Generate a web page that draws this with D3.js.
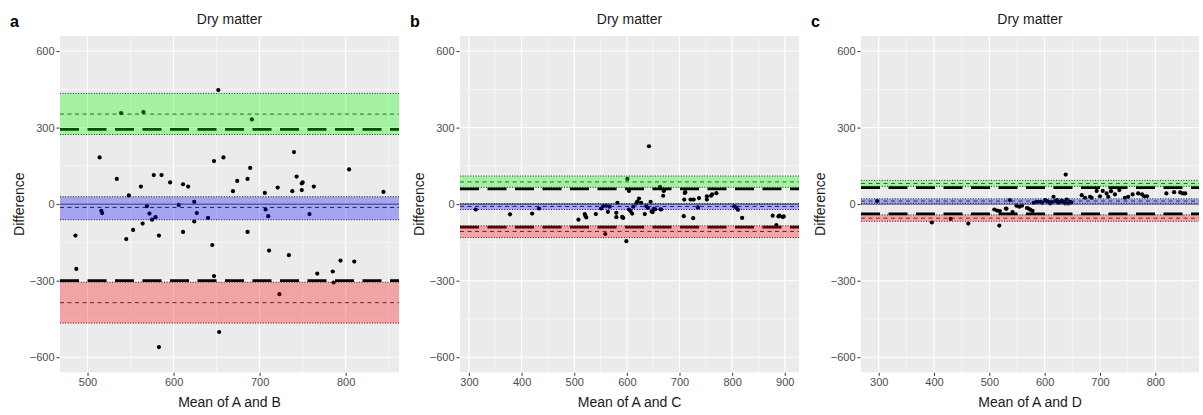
<!DOCTYPE html>
<html>
<head>
<meta charset="utf-8">
<script src="https://cdn.jsdelivr.net/npm/d3@7"></script>
<style>
  body { margin: 0; background: #fff; }
  svg { display: block; font-family: "Liberation Sans", Arial, sans-serif; }
</style>
</head>
<body>
<svg id="chart" width="1203" height="415"></svg>
<script>
// ---------------- data ----------------
const panelLetters = ["a", "b", "c"];
const panelTitles = ["Dry matter", "Dry matter", "Dry matter"];
const xTitles = ["Mean of A and B", "Mean of A and C", "Mean of A and D"];
const yTitle = "Difference";

const yTicks = [-600, -300, 0, 300, 600];
const yMinor = [-450, -150, 150, 450];
const xTicksA = [500, 600, 700, 800];
const xMinorA = [550, 650, 750, 850];
const xTicksB = [300, 400, 500, 600, 700, 800, 900];
const xMinorB = [350, 450, 550, 650, 750, 850];
const xTicksC = [300, 400, 500, 600, 700, 800];
const xMinorC = [350, 450, 550, 650, 750, 850];

// [mean, difference]
const pointsA = [[486,-123],[487,-254],[514,183],[516,-26],[517,-35],[534,99],[539,357],[545,-137],[548,34],[553,-101],[562,69],[564,-76],[565,361],[569,-8],[572,-37],[575,-61],[577,114],[579,-51],[583,-123],[583,-560],[586,114],[596,85],[606,-3],[611,78],[611,-109],[617,69],[624,9],[624,-68],[627,-35],[640,-54],[645,-160],[647,169],[647,-282],[652,447],[653,-501],[658,183],[669,51],[674,91],[686,99],[686,-109],[689,142],[691,332],[706,44],[707,-21],[710,-47],[711,-182],[721,65],[723,-353],[734,-200],[738,51],[740,204],[743,108],[749,81],[749,55],[750,85],[758,-39],[763,69],[767,-272],[785,-264],[786,-307],[794,-221],[804,136],[810,-225],[844,48]];

const pointsB = [[313,-21],[378,-40],[420,-37],[433,-17],[508,-61],[520,-39],[521,-45],[523,-52],[541,-39],[551,-17],[555,-8],[559,-117],[561,-6],[564,-30],[567,-10],[580,-34],[580,-51],[582,5],[591,-50],[593,-54],[599,-145],[601,99],[604,52],[604,-21],[607,-27],[610,-37],[612,-10],[618,3],[620,10],[623,22],[627,5],[634,-39],[637,-8],[640,-15],[642,227],[645,9],[647,-29],[649,-31],[651,-18],[654,-20],[663,68],[664,-20],[665,-21],[669,33],[670,52],[671,55],[708,-47],[709,18],[710,44],[711,47],[721,18],[726,-55],[727,18],[735,-13],[737,24],[752,18],[752,31],[760,33],[762,38],[770,43],[804,-9],[808,-14],[811,-22],[819,-54],[877,-45],[884,-82],[888,-48],[890,-45],[896,-50],[898,-48]];

const pointsC = [[297,12],[396,-72],[430,-58],[462,-76],[509,-21],[514,-25],[519,-27],[518,-84],[530,-17],[531,-18],[537,16],[542,-31],[549,-6],[554,-10],[559,-6],[568,-15],[571,-17],[574,-22],[578,-26],[580,5],[586,9],[592,9],[596,5],[601,16],[604,12],[607,9],[610,3],[613,8],[616,29],[619,12],[622,16],[625,5],[628,9],[631,14],[634,9],[637,3],[638,116],[640,18],[643,3],[646,9],[648,6],[667,35],[673,25],[682,29],[685,25],[694,52],[700,31],[705,52],[712,42],[715,29],[720,51],[727,38],[735,55],[745,25],[751,29],[759,38],[769,42],[776,38],[780,31],[785,31],[820,42],[834,47],[845,46],[850,42],[854,42]];

// band limits: [lower, centre, upper] ; limits of agreement / bias
const upperBandA = [273, 353, 434], biasBandA = [-61, -13, 29], lowerBandA = [-466, -386, -306];
const upperLoAA = 293, lowerLoAA = -300;
const upperBandB = [66, 87, 110], biasBandB = [-21, -9, 2], lowerBandB = [-131, -107, -85];
const upperLoAB = 60, lowerLoAB = -90;
const upperBandC = [70, 81, 93], biasBandC = [3, 12, 21], lowerBandC = [-67, -55, -42];
const upperLoAC = 65, lowerLoAC = -38;

const xDomains = [[468, 862], [283, 927], [268, 879]];
const yDomain = [-659, 659];

// ---------------- layout ----------------
const panels = [
  { x0: 60, x1: 399, pts: pointsA, ticks: xTicksA, minor: xMinorA, up: upperBandA, mid: biasBandA, lo: lowerBandA, uLoA: upperLoAA, lLoA: lowerLoAA, letterX: 10 },
  { x0: 460, x1: 799, pts: pointsB, ticks: xTicksB, minor: xMinorB, up: upperBandB, mid: biasBandB, lo: lowerBandB, uLoA: upperLoAB, lLoA: lowerLoAB, letterX: 410 },
  { x0: 861, x1: 1199, pts: pointsC, ticks: xTicksC, minor: xMinorC, up: upperBandC, mid: biasBandC, lo: lowerBandC, uLoA: upperLoAC, lLoA: lowerLoAC, letterX: 811 }
];
const yTop = 36, yBot = 372.3;

const svg = d3.select("#chart");
const y = d3.scaleLinear().domain(yDomain).range([yBot, yTop]);

panels.forEach((p, i) => {
  const x = d3.scaleLinear().domain(xDomains[i]).range([p.x0, p.x1]);
  const g = svg.append("g");
  const clipId = "clip" + i;
  svg.append("defs").append("clipPath").attr("id", clipId)
    .append("rect").attr("x", p.x0).attr("y", yTop).attr("width", p.x1 - p.x0).attr("height", yBot - yTop);

  // panel background
  g.append("rect").attr("x", p.x0).attr("y", yTop).attr("width", p.x1 - p.x0).attr("height", yBot - yTop).attr("fill", "#EBEBEB");

  const grid = g.append("g").attr("clip-path", `url(#${clipId})`);
  // minor grid
  grid.selectAll(".ym").data(yMinor).join("line")
    .attr("x1", p.x0).attr("x2", p.x1).attr("y1", d => y(d)).attr("y2", d => y(d))
    .attr("stroke", "#fff").attr("stroke-width", 0.55);
  grid.selectAll(".xm").data(p.minor).join("line")
    .attr("y1", yTop).attr("y2", yBot).attr("x1", d => x(d)).attr("x2", d => x(d))
    .attr("stroke", "#fff").attr("stroke-width", 0.55);
  // major grid
  grid.selectAll(".yM").data(yTicks).join("line")
    .attr("x1", p.x0).attr("x2", p.x1).attr("y1", d => y(d)).attr("y2", d => y(d))
    .attr("stroke", "#fff").attr("stroke-width", 1.1);
  grid.selectAll(".xM").data(p.ticks).join("line")
    .attr("y1", yTop).attr("y2", yBot).attr("x1", d => x(d)).attr("x2", d => x(d))
    .attr("stroke", "#fff").attr("stroke-width", 1.1);

  const plot = g.append("g").attr("clip-path", `url(#${clipId})`);

  // points
  plot.selectAll("circle").data(p.pts).join("circle")
    .attr("cx", d => x(d[0])).attr("cy", d => y(d[1])).attr("r", 2.1).attr("fill", "#000");

  const hline = (v, dash, w, col) => plot.append("line")
    .attr("x1", p.x0).attr("x2", p.x1).attr("y1", y(v)).attr("y2", y(v))
    .attr("stroke", col || "#000").attr("stroke-width", w).attr("stroke-dasharray", dash);

  // zero line
  hline(0, null, 1, "#444");
  // band centre dashed lines
  [p.up[1], p.mid[1], p.lo[1]].forEach(v => hline(v, "4,3.5", 0.8));
  // band edge dotted lines
  [p.up[0], p.up[2], p.mid[0], p.mid[2], p.lo[0], p.lo[2]].forEach(v => hline(v, "1,1.6", 0.9));
  // limits of agreement long dashed
  [p.uLoA, p.lLoA].forEach(v => hline(v, "19,8.5", 2.8));

  // bands (drawn on top, translucent)
  const bands = [[p.up, "rgb(0,255,0)"], [p.mid, "rgb(0,0,255)"], [p.lo, "rgb(255,0,0)"]];
  bands.forEach(([b, c]) => {
    plot.append("rect").attr("x", p.x0).attr("width", p.x1 - p.x0)
      .attr("y", y(b[2])).attr("height", y(b[0]) - y(b[2]))
      .attr("fill", c).attr("fill-opacity", 0.3);
  });

  // axes
  const yAxis = d3.axisLeft(y).tickValues(yTicks).tickSize(3).tickPadding(2).tickFormat(d3.format("d"));
  const ya = g.append("g").attr("transform", `translate(${p.x0 - 0.5},0)`).call(yAxis);
  const xAxis = d3.axisBottom(x).tickValues(p.ticks).tickSize(3).tickPadding(2).tickFormat(d3.format("d"));
  const xa = g.append("g").attr("transform", `translate(0,${yBot + 0.5})`).call(xAxis);
  [ya, xa].forEach(a => {
    a.select(".domain").remove();
    a.selectAll(".tick line").attr("stroke", "#333").attr("stroke-width", 1);
    a.selectAll(".tick text").attr("fill", "#4D4D4D").style("font-size", "11px")
      .style("font-family", "'Liberation Sans', Arial, sans-serif");
  });

  // titles
  g.append("text").attr("x", (p.x0 + p.x1) / 2).attr("y", 24).attr("text-anchor", "middle")
    .style("font-size", "14px").attr("fill", "#1a1a1a").text(panelTitles[i]);
  g.append("text").attr("x", p.letterX).attr("y", 27).style("font-size", "16px").style("font-weight", "bold")
    .attr("fill", "#000").text(panelLetters[i]);
  g.append("text").attr("x", (p.x0 + p.x1) / 2).attr("y", 406.5).attr("text-anchor", "middle")
    .style("font-size", "14px").attr("fill", "#1a1a1a").text(xTitles[i]);
  g.append("text").attr("transform", `translate(${p.letterX + 14},${(yTop + yBot) / 2}) rotate(-90)`)
    .attr("text-anchor", "middle").style("font-size", "14px").attr("fill", "#1a1a1a").text(yTitle);
});
</script>
</body>
</html>
